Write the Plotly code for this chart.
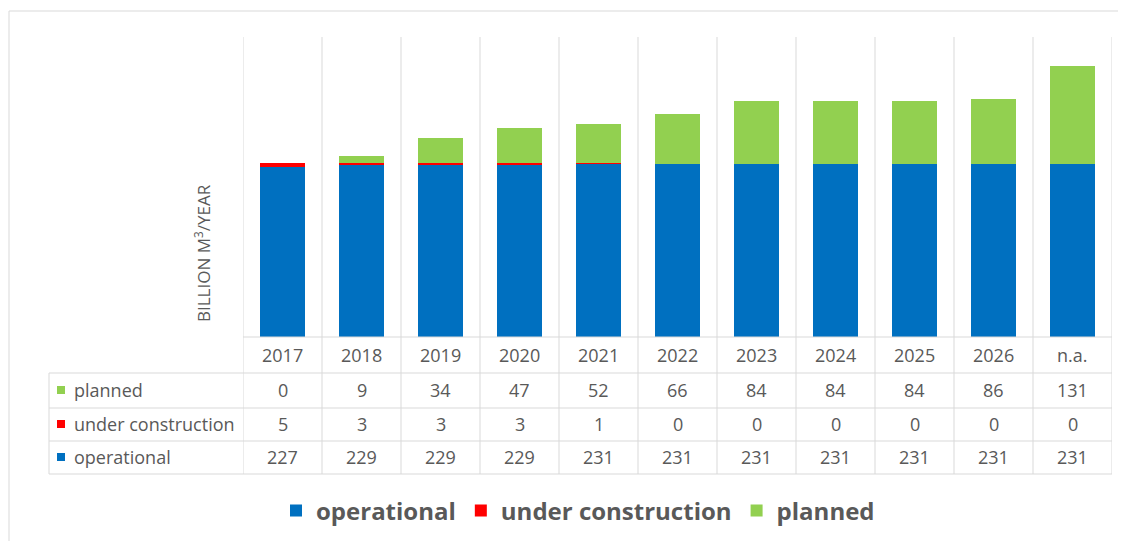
import plotly.graph_objects as go

categories = ["2017", "2018", "2019", "2020", "2021", "2022", "2023", "2024", "2025", "2026", "n.a."]
operational = [227, 229, 229, 229, 231, 231, 231, 231, 231, 231, 231]
under_construction = [5, 3, 3, 3, 1, 0, 0, 0, 0, 0, 0]
planned = [0, 9, 34, 47, 52, 66, 84, 84, 84, 86, 131]
series_names = ["operational", "under construction", "planned"]
y_title = "BILLION M<sup>3</sup>/YEAR"

colors = {"operational": "#0070C0", "under construction": "#FF0000", "planned": "#92D050"}
series = {"operational": operational, "under construction": under_construction, "planned": planned}

OFF = 8  # page body margin
W, H = 1126 - OFF, 541 - OFF
TXT = "#595959"
GRID = "#D9D9D9"
FONT = "Open Sans"


def px(x):
    return (x - OFF) / W


def py(y):
    return 1 - (y - OFF) / H


fig = go.Figure()
for name in series_names:
    fig.add_trace(go.Bar(x=categories, y=series[name], name=name,
                         marker=dict(color=colors[name], line=dict(width=0))))

shapes = []
# outer frame (top/left)
shapes.append(dict(type="line", xref="paper", yref="paper", x0=px(9), x1=1, y0=py(11), y1=py(11),
                   line=dict(color=GRID, width=1)))
shapes.append(dict(type="line", xref="paper", yref="paper", x0=px(9), x1=px(9), y0=py(11), y1=0,
                   line=dict(color=GRID, width=1)))
# vertical gridlines through plot and table
for i in range(len(categories) + 1):
    shapes.append(dict(type="line", xref="x", yref="paper", x0=i - 0.5, x1=i - 0.5,
                       y0=py(474), y1=py(37), line=dict(color=GRID, width=1)))
# header top line
shapes.append(dict(type="line", xref="paper", yref="paper", x0=px(243), x1=px(1112),
                   y0=py(337), y1=py(337), line=dict(color=GRID, width=1)))
# table row lines
for yy in [373, 408, 441, 474]:
    shapes.append(dict(type="line", xref="paper", yref="paper", x0=px(49), x1=px(1112),
                       y0=py(yy), y1=py(yy), line=dict(color=GRID, width=1)))
shapes.append(dict(type="line", xref="paper", yref="paper", x0=px(49), x1=px(49),
                   y0=py(373), y1=py(474), line=dict(color=GRID, width=1)))

annotations = []
FS = 18
# header row
for i, c in enumerate(categories):
    annotations.append(dict(x=i, xref="x", y=py(355), yref="paper", text=c, showarrow=False,
                            font=dict(family=FONT, size=FS, color=TXT), xanchor="center", yanchor="middle"))
row_y = {"planned": 390, "under construction": 424, "operational": 457}
for name in ["planned", "under construction", "operational"]:
    yc = row_y[name]
    shapes.append(dict(type="rect", xref="paper", yref="paper", x0=px(57), x1=px(65),
                       y0=py(yc + 4), y1=py(yc - 4), fillcolor=colors[name], line=dict(width=0)))
    annotations.append(dict(x=px(72), xref="paper", y=py(yc), yref="paper", text=name, showarrow=False,
                            font=dict(family=FONT, size=FS, color=TXT), xanchor="left", yanchor="middle"))
    for i, v in enumerate(series[name]):
        annotations.append(dict(x=i, xref="x", y=py(yc), yref="paper", text=str(v), showarrow=False,
                                font=dict(family=FONT, size=FS, color=TXT), xanchor="center", yanchor="middle"))
# y-axis title
annotations.append(dict(x=px(203), xref="paper", y=py(253), yref="paper", text=y_title, showarrow=False,
                        textangle=-90, font=dict(family=FONT, size=17, color=TXT),
                        xanchor="center", yanchor="middle"))

fig.update_layout(
    width=W, height=H, autosize=False,
    margin=dict(l=0, r=0, t=0, b=0),
    paper_bgcolor="white", plot_bgcolor="white",
    barmode="stack", bargap=0.44,
    xaxis=dict(domain=[px(243), px(1112)], type="category", showticklabels=False, showgrid=False,
               zeroline=False, showline=False, range=[-0.5, len(categories) - 0.5]),
    yaxis=dict(domain=[py(337), py(37)], range=[0, 400], visible=False),
    legend=dict(orientation="h", x=px(578), xanchor="center", y=py(511), yanchor="middle",
                traceorder="normal", font=dict(family=FONT, size=24, color=TXT, weight="bold"),
                itemwidth=30),
    shapes=shapes, annotations=annotations,
    showlegend=True,
)

fig.write_html("out.html")
